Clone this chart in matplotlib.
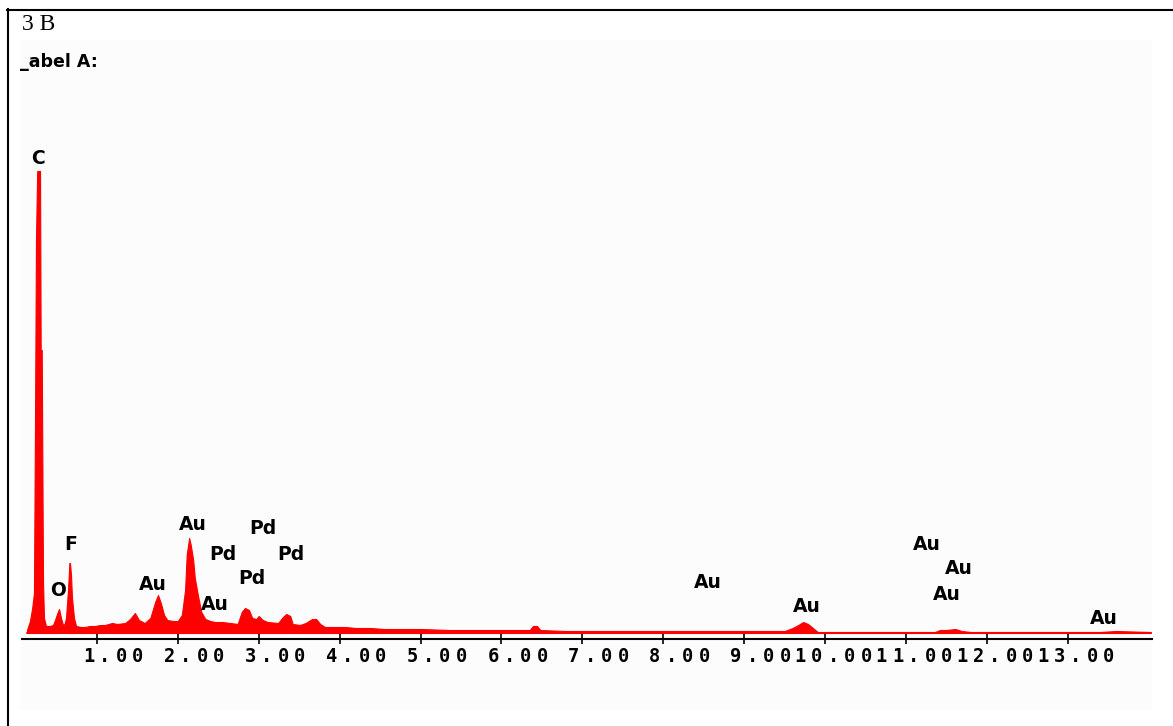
#!/usr/bin/env python3
"""
EDS spectrum (label A) - recreated figure 3 B
"""

import matplotlib
matplotlib.use('Agg')
import matplotlib.pyplot as plt
from matplotlib.patches import Rectangle
from matplotlib.lines import Line2D

# Spectrum: energy (keV) and counts (relative)
energy_kev = [0.136, 0.173, 0.200, 0.222, 0.235, 0.247, 0.262, 0.272, 0.297, 0.305,
              0.318, 0.334, 0.346, 0.370, 0.420, 0.457, 0.482, 0.507, 0.532, 0.556,
              0.581, 0.600, 0.618, 0.643, 0.660, 0.667, 0.680, 0.692, 0.717, 0.742,
              0.800, 0.853, 0.910, 0.977, 1.040, 1.100, 1.187, 1.250, 1.350, 1.410,
              1.470, 1.520, 1.590, 1.660, 1.720, 1.755, 1.790, 1.830, 1.870, 1.940,
              2.000, 2.050, 2.090, 2.110, 2.140, 2.160, 2.190, 2.210, 2.250, 2.290,
              2.340, 2.400, 2.460, 2.550, 2.650, 2.740, 2.790, 2.830, 2.880, 2.920,
              2.970, 3.000, 3.050, 3.110, 3.240, 3.300, 3.340, 3.390, 3.420, 3.510,
              3.580, 3.660, 3.710, 3.760, 3.820, 3.950, 4.070, 4.200, 4.380, 4.550,
              4.750, 5.000, 5.360, 5.800, 6.100, 6.350, 6.390, 6.440, 6.480, 6.800,
              7.220, 7.700, 8.100, 8.450, 8.900, 9.200, 9.500, 9.600, 9.670, 9.730,
              9.790, 9.850, 9.910, 10.30, 10.93, 11.36, 11.42, 11.50, 11.61, 11.69,
              11.80, 12.30, 12.90, 13.40, 13.60, 14.02]
counts = [3, 12, 25, 40, 210, 393, 462, 462, 462, 283,
          283, 50, 15, 7, 7, 8, 13, 19, 24, 15,
          8, 9, 15, 43, 70, 70, 58, 35, 15, 7,
          6, 6, 7, 7, 8, 8, 10, 9, 10, 14,
          20, 13, 10, 15, 31, 38, 30, 18, 13, 12,
          12, 18, 43, 78, 95, 88, 73, 55, 37, 21,
          14, 12, 11, 11, 10, 9, 21, 25, 23, 15,
          14, 17, 13, 11, 10, 16, 19, 17, 9, 8,
          10, 14, 14, 9, 6, 6, 6, 5, 5, 4,
          4, 4, 3, 3, 3, 3, 7, 7, 3, 2,
          2, 2, 2, 2, 2, 2, 2, 5, 8, 11,
          9, 5, 1, 1, 1, 1, 3, 3, 4, 2,
          1, 1, 1, 1, 2, 1]

# Peak identification labels
peak_names = ['C', 'O', 'F', 'Au', 'Au', 'Pd', 'Pd', 'Pd', 'Pd', 'Au',
              'Au', 'Au', 'Au', 'Au', 'Au', 'Au']
peak_kev = [0.27, 0.52, 0.67, 1.69, 2.18, 2.56, 3.05, 2.91, 3.40, 2.46,
            8.55, 9.78, 11.26, 11.65, 11.51, 13.45]
peak_counts = [475, 43, 88, 48, 108, 79, 104, 55, 79, 29,
               51, 27, 88, 64, 38, 14]

tick_values = list(range(1, 14))


def create_spectrum_plot():
    W, H = 1173, 726
    fig = plt.figure(figsize=(W / 100, H / 100), dpi=100)
    fig.patch.set_facecolor('white')

    # very light grey panel behind the spectrum
    fig.patches.append(Rectangle((20 / W, 1 - 710 / H), 1132 / W, 670 / H,
                                 transform=fig.transFigure, facecolor='#fcfcfc',
                                 edgecolor='none', zorder=-5))
    # table cell border (top and left)
    fig.add_artist(Line2D([7 / W, 1], [1 - 10 / H, 1 - 10 / H],
                          transform=fig.transFigure, color='black', lw=1.5))
    fig.add_artist(Line2D([7.5 / W, 7.5 / W], [0, 1 - 9 / H],
                          transform=fig.transFigure, color='black', lw=1.5))

    fig.text(22 / W, 1 - 25 / H, '3 B', family='Liberation Serif', fontsize=17,
             ha='left', va='center')
    fig.text(20 / W, 1 - 62 / H, '_abel A:', family='DejaVu Sans', fontweight='bold',
             fontsize=12.5, ha='left', va='center')

    ax = fig.add_axes([22 / W, 87 / H, 1130 / W, 599 / H])
    ax.set_facecolor('none')

    ax.fill_between(energy_kev, counts, 0, color='#ff0000', lw=0.8, edgecolor='#ff0000')
    ax.plot([energy_kev[0], 14.04], [0.5, 0.5], color='#ff0000', lw=1.2)

    for name, x, y in zip(peak_names, peak_kev, peak_counts):
        ax.text(x, y, name, ha='center', va='center', fontsize=13.5,
                fontweight='bold', family='DejaVu Sans', color='black')

    ax.set_xlim((22 - 16) / 80.9, (1152 - 16) / 80.9)
    ax.set_ylim(-6, 593)

    for side in ['top', 'right', 'left']:
        ax.spines[side].set_visible(False)
    ax.spines['bottom'].set_linewidth(1.5)
    ax.set_yticks([])
    ax.set_xticks(tick_values)
    ax.set_xticklabels([])
    ax.tick_params(axis='x', direction='inout', length=7, width=1.2, color='black')

    # pixel-font style tick labels, one character at a time
    for v in tick_values:
        label = f'{v:.2f}'
        n_int = len(str(v))
        for i, ch in enumerate(label):
            dx = (i - n_int) * 16.5 + 8
            ax.annotate(ch, xy=(v, 0), xycoords=('data', 'axes fraction'),
                        xytext=(dx, -18), textcoords='offset pixels',
                        ha='center', va='center', fontsize=13.5,
                        family='DejaVu Sans Mono', fontweight='bold',
                        annotation_clip=False)

    plt.savefig('out.png', dpi=100)
    print("Spectrum saved as 'out.png'")


if __name__ == "__main__":
    create_spectrum_plot()
